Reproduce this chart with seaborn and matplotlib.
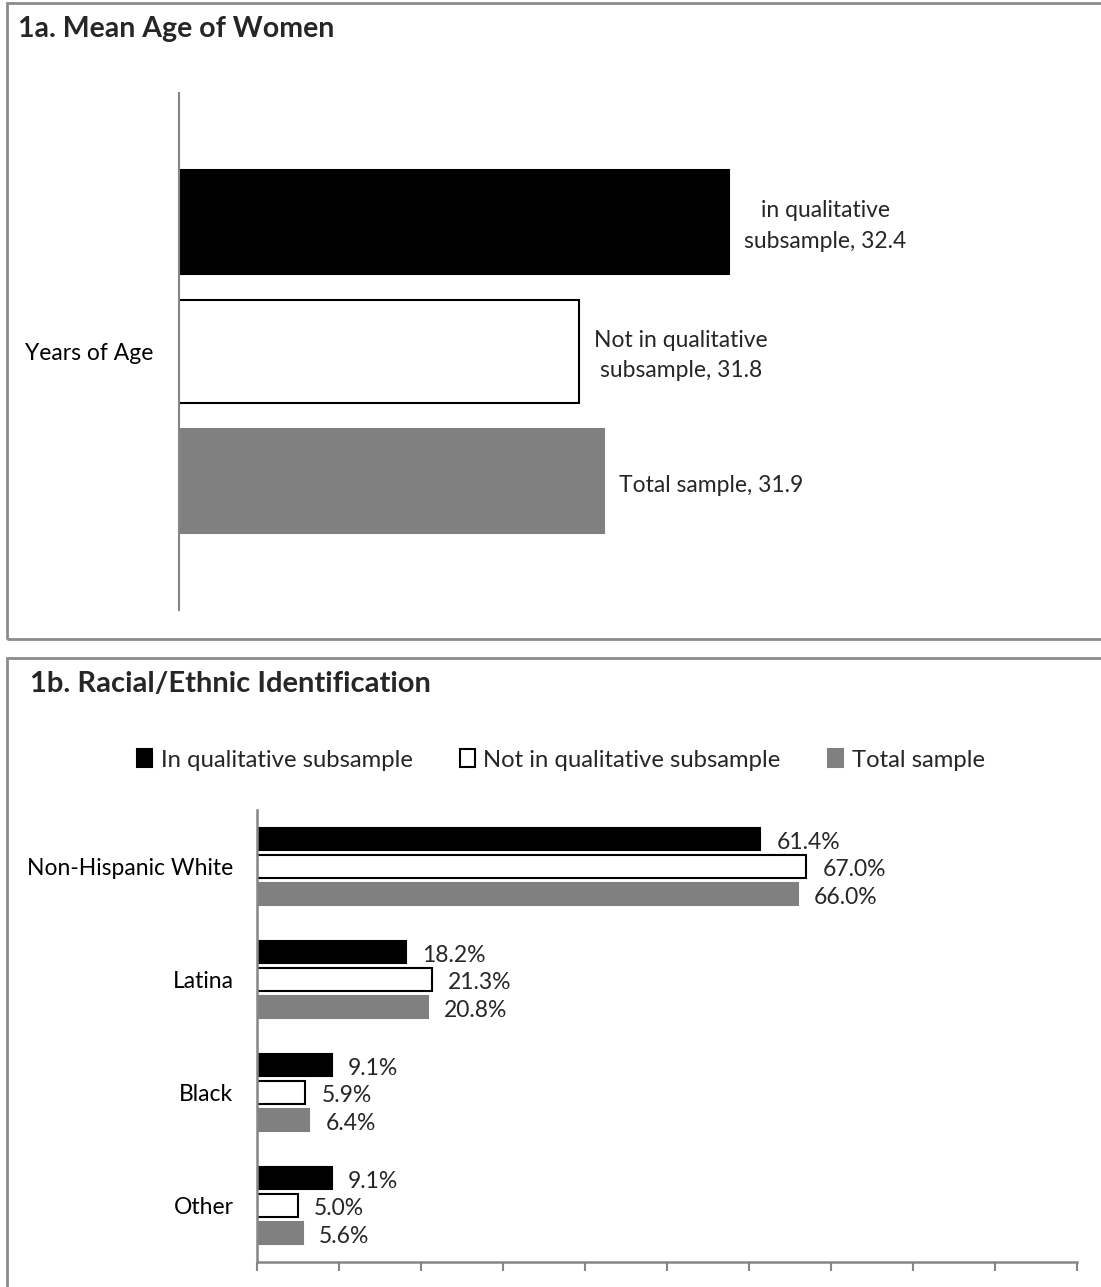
import pandas as pd
import matplotlib.pyplot as plt
import seaborn as sns
from matplotlib.patches import Rectangle

# Figure 1a data
age_measure = "Years of Age"
age_groups = ["in qualitative subsample", "Not in qualitative subsample", "Total sample"]
age_values = [32.4, 31.8, 31.9]
age_labels = ["in qualitative\nsubsample, 32.4", "Not in qualitative\nsubsample, 31.8", "Total sample, 31.9"]

# Figure 1b data
race_categories = ["Non-Hispanic White", "Latina", "Black", "Other"]
series_names = ["In qualitative subsample", "Not in qualitative subsample", "Total sample"]
in_qual = [61.4, 18.2, 9.1, 9.1]
not_in_qual = [67.0, 21.3, 5.9, 5.0]
total_sample = [66.0, 20.8, 6.4, 5.6]

fills = ["#000000", "#ffffff", "#808080"]
edges = ["#000000", "#000000", "#808080"]
axis_color = "#868686"

sns.set_theme(style="white")
plt.rcParams['font.family'] = ['Lato', 'DejaVu Sans']

W, H = 1101, 1287
fig = plt.figure(figsize=(W / 100, H / 100), dpi=100)


def px_rect(x0, y0, x1, y1):
    return [x0 / W, 1 - y1 / H, (x1 - x0) / W, (y1 - y0) / H]


# panel borders (cut off at the right and bottom edges)
for y0, y1 in [(3, 639), (658, 1400)]:
    fig.add_artist(Rectangle((7 / W, 1 - y1 / H), (1300 - 7) / W, (y1 - y0) / H,
                             transform=fig.transFigure, fill=False,
                             edgecolor="#8c8c8c", linewidth=2))

fig.text(18 / W, 1 - 36.7 / H, "1a. Mean Age of Women", fontsize=20.5,
         fontweight="bold", va="baseline", ha="left")
fig.text(30 / W, 1 - 692 / H, "1b. Racial/Ethnic Identification", fontsize=21,
         fontweight="bold", va="baseline", ha="left")

# 1a. Mean age
age_df = pd.DataFrame({"measure": [age_measure] * len(age_groups),
                       "group": age_groups, "value": age_values})
ax1 = fig.add_axes(px_rect(179, 93, 1079, 610))
sns.barplot(data=age_df, x="value", y="measure", hue="group", hue_order=age_groups,
            palette=dict(zip(age_groups, fills)), saturation=1, width=0.857, gap=0.2,
            linewidth=1.5, legend=False, ax=ax1)
for cont, ec, lab in zip(ax1.containers, edges, age_labels):
    for bar in cont:
        bar.set_edgecolor(ec)
    texts = ax1.bar_label(cont, labels=[lab], padding=11, fontsize=16.5,
                          multialignment="center", linespacing=1.55)
    for t in texts:
        t.xyann = (t.xyann[0], -3)
ax1.set_xlim(30.2, 33.8)
ax1.set_ylim(0.57, -0.57)
ax1.set_xlabel("")
ax1.set_ylabel("")
ax1.set_xticks([])
ax1.tick_params(axis="y", length=0, pad=18.5, labelsize=16.5, labelcolor="black")
for side in ["top", "right", "bottom"]:
    ax1.spines[side].set_visible(False)
ax1.spines["left"].set_color(axis_color)
ax1.spines["left"].set_linewidth(1.5)

# 1b. Racial/ethnic identification
race_df = pd.DataFrame({
    "category": race_categories * 3,
    "series": [s for s in series_names for _ in race_categories],
    "pct": in_qual + not_in_qual + total_sample,
})
ax2 = fig.add_axes(px_rect(257, 810, 1077, 1262))
sns.barplot(data=race_df, x="pct", y="category", hue="series", hue_order=series_names,
            order=race_categories, palette=dict(zip(series_names, fills)),
            saturation=1, width=0.737, gap=0.2, linewidth=1.5, ax=ax2)
for cont, ec in zip(ax2.containers, edges):
    for bar in cont:
        bar.set_edgecolor(ec)
    texts = ax2.bar_label(cont, fmt="%.1f%%", padding=11.5, fontsize=16.5)
    for t in texts:
        t.xyann = (t.xyann[0], -2.5)
ax2.set_xlim(0, 100)
ax2.set_ylim(3.5, -0.5)
ax2.set_xticks(range(0, 101, 10))
ax2.set_xticklabels([])
ax2.set_xlabel("")
ax2.set_ylabel("")
ax2.tick_params(axis="x", bottom=True, length=6.5, width=1.5, color=axis_color, direction="out")
ax2.tick_params(axis="y", length=0, pad=17, labelsize=16.5, labelcolor="black")
for side in ["top", "right"]:
    ax2.spines[side].set_visible(False)
for side in ["left", "bottom"]:
    ax2.spines[side].set_color(axis_color)
    ax2.spines[side].set_linewidth(1.8)

sns.move_legend(ax2, "center", bbox_to_anchor=(561 / W, 1 - 760 / H),
                bbox_transform=fig.transFigure, ncol=3, frameon=False, title=None,
                fontsize=17.2, handlelength=0.62, handleheight=0.78,
                handletextpad=0.35, columnspacing=2.0)
for handle, ec in zip(ax2.get_legend().legend_handles, edges):
    handle.set_edgecolor(ec)
    handle.set_linewidth(1.5)

fig.savefig("out.png", dpi=100)
